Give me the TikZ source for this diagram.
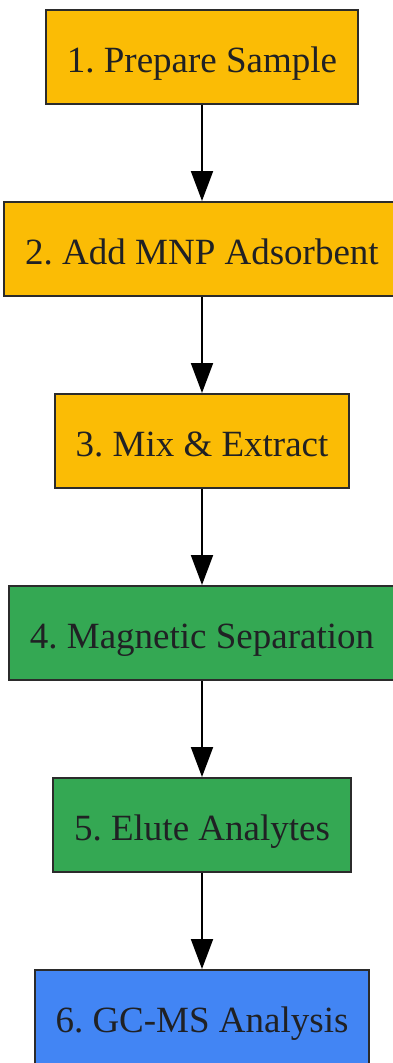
\documentclass[tikz,border=0pt]{standalone}
\usepackage{fontspec}
\setmainfont{Liberation Serif}
\usetikzlibrary{arrows.meta}
\frenchspacing

\definecolor{stepyellow}{HTML}{FBBC05}
\definecolor{stepgreen}{HTML}{34A853}
\definecolor{stepblue}{HTML}{4285F4}
\definecolor{edgegray}{HTML}{2B2B2B}
\definecolor{inkgray}{HTML}{202124}

\tikzset{
		stepbox/.style={draw=edgegray, line width=2pt, text=inkgray, inner xsep=21pt, minimum height=94pt, text height=30pt, text depth=0pt, font=\fontsize{37}{44}\selectfont},
		flow/.style={-{Triangle[length=30pt, width=22pt]}, line width=2pt, black}
	}

\begin{document}
\begin{tikzpicture}[x=1pt, y=1pt]

\useasboundingbox (0,0) rectangle (393,-1063);

\node (prep) at (202,-57) [stepbox, fill=stepyellow] {1. Prepare Sample};
\node (add) at (202,-249) [stepbox, fill=stepyellow] {2. Add MNP Adsorbent};
\node (mix) at (202,-441) [stepbox, fill=stepyellow] {3. Mix \& Extract};

\node (magsep) at (202,-633) [stepbox, fill=stepgreen] {4. Magnetic Separation};
\node (elute) at (202,-825) [stepbox, fill=stepgreen] {5. Elute Analytes};

\node (gcms) at (202,-1017) [stepbox, fill=stepblue] {6. GC-MS Analysis};


\draw [flow] (prep) to (add);
\draw [flow] (add) to (mix);
\draw [flow] (mix) to (magsep);
\draw [flow] (magsep) to (elute);
\draw [flow] (elute) to (gcms);

\end{tikzpicture}
\end{document}
